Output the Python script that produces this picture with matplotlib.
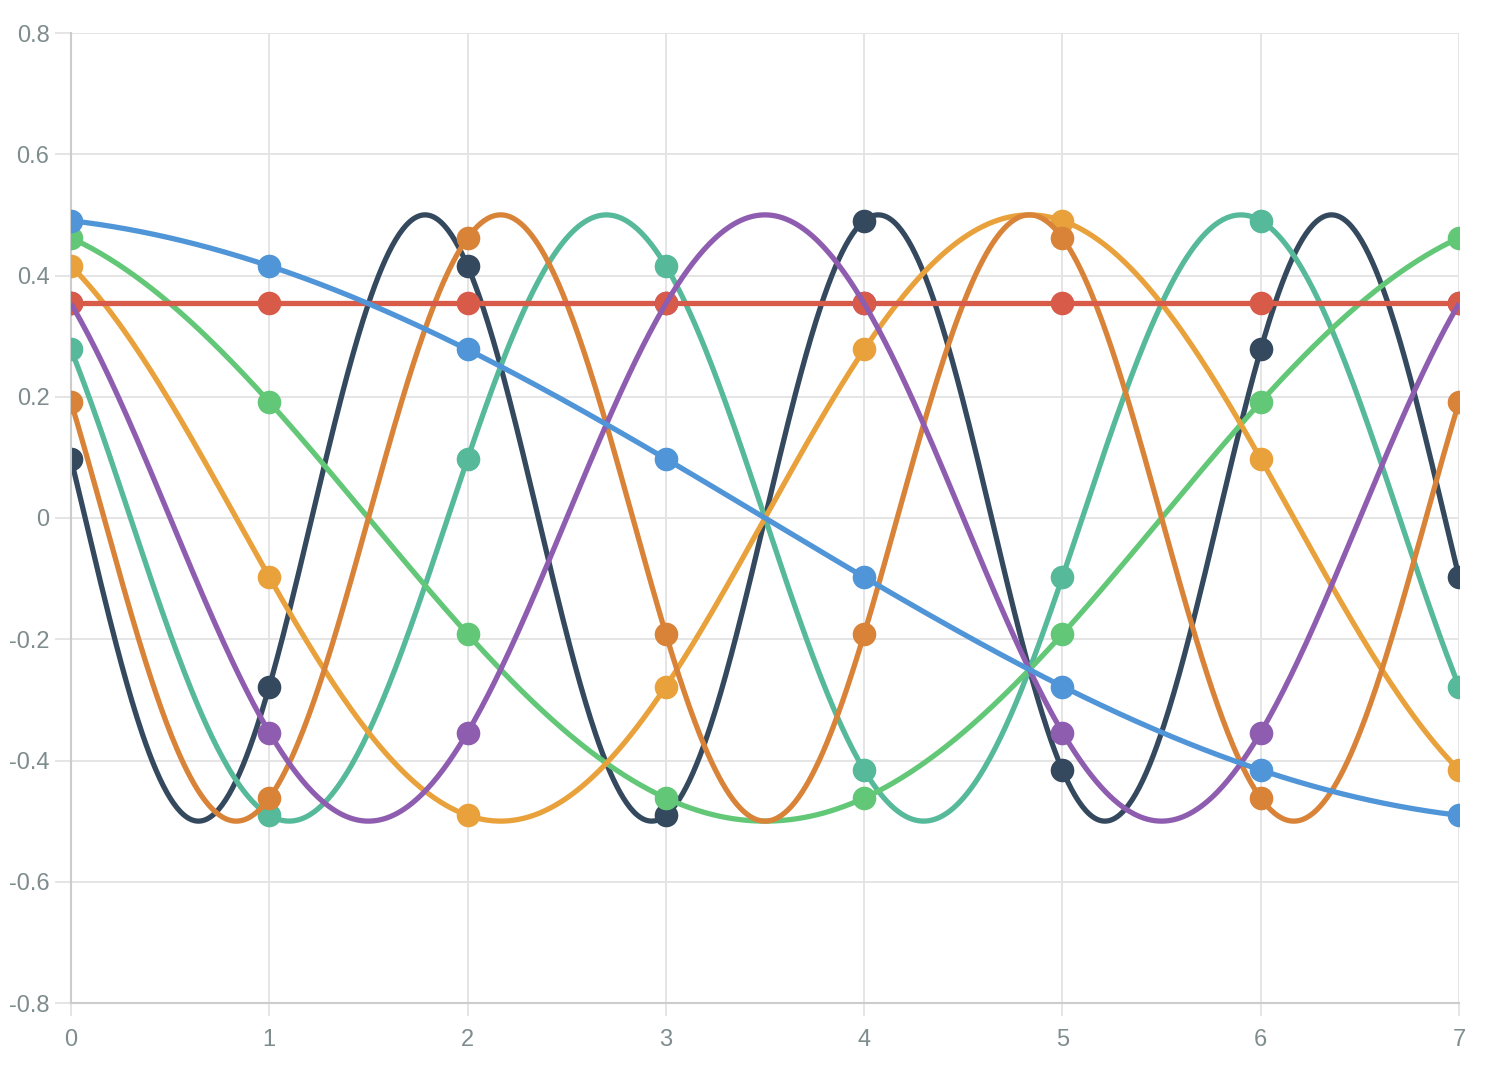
import numpy as np
import matplotlib
matplotlib.use('Agg')
import matplotlib.pyplot as plt

x_pts = [0, 1, 2, 3, 4, 5, 6, 7]
k0 = [0.354, 0.354, 0.354, 0.354, 0.354, 0.354, 0.354, 0.354]
k1 = [0.490, 0.416, 0.278, 0.098, -0.098, -0.278, -0.416, -0.490]
k2 = [0.462, 0.191, -0.191, -0.462, -0.462, -0.191, 0.191, 0.462]
k3 = [0.416, -0.098, -0.490, -0.278, 0.278, 0.490, 0.098, -0.416]
k4 = [0.354, -0.354, -0.354, 0.354, 0.354, -0.354, -0.354, 0.354]
k5 = [0.278, -0.490, 0.098, 0.416, -0.416, -0.098, 0.490, -0.278]
k6 = [0.191, -0.462, 0.462, -0.191, -0.191, 0.462, -0.462, 0.191]
k7 = [0.098, -0.278, 0.416, -0.490, 0.490, -0.416, 0.278, -0.098]

freqs = [0, 1, 2, 3, 4, 5, 6, 7]
amp = 0.5
colors = ['#d85a48', '#4f95d8', '#62c878', '#e9a23b', '#8f5db0', '#55b99a', '#d88338', '#34495e']
line_z = [6.0, 8.0, 4.0, 5.0, 7.0, 3.0, 5.5, 2.0]
dot_z = [6.8, 8.5, 4.5, 5.2, 6.5, 3.5, 5.7, 2.5]
y_ticks = [-0.8, -0.6, -0.4, -0.2, 0, 0.2, 0.4, 0.6, 0.8]
y_labels = ['-0.8', '-0.6', '-0.4', '-0.2', '0', '0.2', '0.4', '0.6', '0.8']

series = [k0, k1, k2, k3, k4, k5, k6, k7]

plt.rcParams['font.family'] = ['Liberation Sans', 'DejaVu Sans']
fig = plt.figure(figsize=(15.02, 10.68), dpi=100)
ax = fig.add_axes([71 / 1502, 1 - 1003 / 1068, (1459 - 71) / 1502, (1003 - 33) / 1068])

xs = np.linspace(0, 7, 800)
for vals, k, c, lz, dz in zip(series, freqs, colors, line_z, dot_z):
    # the continuous basis function the dots sit on
    if k == 0:
        ys = np.full_like(xs, vals[0])
    else:
        ys = amp * np.cos(np.pi * (2 * xs + 1) * k / 16)
    ax.plot(xs, ys, color=c, lw=3.8, zorder=lz, solid_capstyle='butt')
    ax.plot(x_pts, vals, 'o', color=c, ms=17, mew=0, zorder=dz)

ax.set_xlim(0, 7)
ax.set_ylim(-0.8, 0.8)
ax.set_xticks(x_pts)
ax.set_xticklabels([str(v) for v in x_pts])
ax.set_yticks(y_ticks)
ax.set_yticklabels(y_labels)

ax.grid(True, color='#e3e3e3', lw=1.3, zorder=0)
ax.set_axisbelow(True)
for s in ['top', 'right']:
    ax.spines[s].set_visible(False)
for s in ['left', 'bottom']:
    ax.spines[s].set_color('#cccccc')
    ax.spines[s].set_linewidth(1.5)
ax.tick_params(axis='both', colors='#e3e3e3', width=1.3,
               labelcolor='#7f8c8d', labelsize=17)
ax.tick_params(axis='y', length=11.5, pad=4)
ax.tick_params(axis='x', length=9.5, pad=9)

plt.savefig('out.png', dpi=100)
